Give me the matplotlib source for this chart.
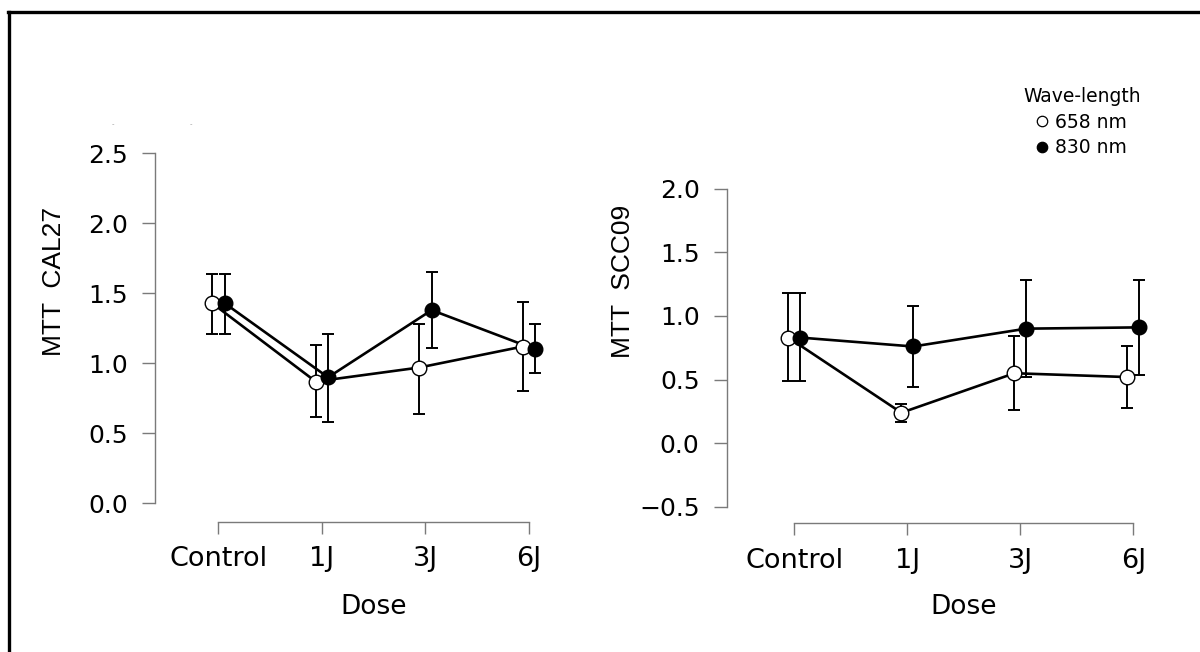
import matplotlib
matplotlib.use('Agg')
import matplotlib.pyplot as plt
from matplotlib.lines import Line2D
import numpy as np

doses = ['Control', '1J', '3J', '6J']

# MTT CAL27
cal_658 = [1.43, 0.87, 0.97, 1.12]
cal_658_lo = [1.21, 0.62, 0.64, 0.80]
cal_658_hi = [1.64, 1.13, 1.28, 1.44]
cal_830 = [1.43, 0.90, 1.38, 1.10]
cal_830_lo = [1.21, 0.58, 1.11, 0.93]
cal_830_hi = [1.64, 1.21, 1.65, 1.28]

# MTT SCC09
scc_658 = [0.83, 0.24, 0.55, 0.52]
scc_658_lo = [0.49, 0.17, 0.26, 0.28]
scc_658_hi = [1.18, 0.31, 0.84, 0.76]
scc_830 = [0.83, 0.76, 0.90, 0.91]
scc_830_lo = [0.49, 0.44, 0.52, 0.54]
scc_830_hi = [1.18, 1.08, 1.28, 1.28]

W, H = 1200, 652
fig = plt.figure(figsize=(12, 6.52), dpi=100)
fig.patch.set_facecolor('white')

tick_font = 'DejaVu Sans'
label_font = 'Liberation Sans'
spine_col = '#7a7a7a'


def px_axes(x0, x1, y_top, y_bot):
    return fig.add_axes([x0 / W, 1 - y_bot / H, (x1 - x0) / W, (y_bot - y_top) / H])


def draw_panel(ax, m658, lo658, hi658, m830, lo830, hi830, dodge):
    x = np.arange(len(doses))
    for vals, lo, hi, face, dx, z in [
        (m658, lo658, hi658, 'white', -dodge, 3),
        (m830, lo830, hi830, 'black', dodge, 4),
    ]:
        vals = np.array(vals)
        err = [vals - np.array(lo), np.array(hi) - vals]
        ax.errorbar(x + dx, vals, yerr=err, fmt='none', ecolor='black',
                    elinewidth=1.4, capsize=4.5, capthick=1.4, zorder=z - 2)
        ax.plot(x + dx, vals, '-', color='black', lw=1.9, zorder=z - 1)
        ax.plot(x + dx, vals, 'o', ms=10.5, mfc=face, mec='black', mew=1.0,
                zorder=z + 2, clip_on=False)
    for s in ['top', 'right']:
        ax.spines[s].set_visible(False)
    for s in ['left', 'bottom']:
        ax.spines[s].set_color(spine_col)
        ax.spines[s].set_linewidth(1.0)
    ax.spines['bottom'].set_bounds(0, 3)
    ax.set_xticks(x)
    ax.set_xticklabels(doses, fontsize=19.5, family=tick_font)
    ax.tick_params(axis='x', length=8.8, width=1.0, color=spine_col, pad=9)
    ax.tick_params(axis='y', length=9.4, width=1.0, color=spine_col, pad=10,
                   labelsize=18)
    for lab in ax.get_yticklabels():
        lab.set_family(tick_font)
    ax.patch.set_alpha(0)


# left panel: CAL27
ax1 = px_axes(155, 545, 140, 521.7)
ax1.set_xlim(-0.611, 3.154)
ax1.set_ylim(-0.131, 2.595)
ax1.set_yticks([0.0, 0.5, 1.0, 1.5, 2.0, 2.5])
ax1.set_yticklabels(['0.0', '0.5', '1.0', '1.5', '2.0', '2.5'])
draw_panel(ax1, cal_658, cal_658_lo, cal_658_hi, cal_830, cal_830_lo, cal_830_hi, 0.06)
ax1.spines['left'].set_bounds(0, 2.5)

# right panel: SCC09
ax2 = px_axes(726.5, 1150, 140, 523.3)
ax2.set_xlim(-0.6, 3.148)
ax2.set_ylim(-0.628, 2.381)
ax2.set_yticks([-0.5, 0.0, 0.5, 1.0, 1.5, 2.0])
ax2.set_yticklabels(['\u22120.5', '0.0', '0.5', '1.0', '1.5', '2.0'])
draw_panel(ax2, scc_658, scc_658_lo, scc_658_hi, scc_830, scc_830_lo, scc_830_hi, 0.052)
ax2.spines['left'].set_bounds(-0.5, 2.0)

# axis titles
fig.text(54 / W, 1 - 281 / H, 'MTT  CAL27', rotation=90, ha='center', va='center',
         fontsize=19, family=label_font)
fig.text(623 / W, 1 - 281 / H, 'MTT  SCC09', rotation=90, ha='center', va='center',
         fontsize=19, family=label_font)
fig.text(373.5 / W, 1 - 607 / H, 'Dose', ha='center', va='center',
         fontsize=19, family=tick_font)
fig.text(963.7 / W, 1 - 607 / H, 'Dose', ha='center', va='center',
         fontsize=19, family=tick_font)

# faint leftovers near top left
fig.text(113 / W, 1 - 124 / H, '-', ha='center', va='center', fontsize=5, color='#999999')
fig.text(191 / W, 1 - 124 / H, '-', ha='center', va='center', fontsize=5, color='#999999')

# legend
handles = [
    Line2D([], [], ls='none', marker='o', ms=7.5, mfc='white', mec='black', mew=0.9),
    Line2D([], [], ls='none', marker='o', ms=7.5, mfc='black', mec='black', mew=0.9),
]
leg = fig.legend(handles, ['658 nm', '830 nm'], title='Wave-length', loc='center',
                 bbox_to_anchor=(1082 / W, 1 - 122 / H), frameon=False,
                 prop={'family': tick_font, 'size': 13.5}, handlelength=0.6,
                 handletextpad=0.4, labelspacing=0.35, borderaxespad=0)
leg.get_title().set_fontsize(13.5)
leg.get_title().set_family(tick_font)

# border along top and left
fig.add_artist(Line2D([9 / W, 9 / W], [0, 1 - 11.5 / H], color='black', lw=2.4,
                      transform=fig.transFigure))
fig.add_artist(Line2D([8 / W, 1], [1 - 11.5 / H, 1 - 11.5 / H], color='black', lw=2.4,
                      transform=fig.transFigure))

fig.savefig('out.png', dpi=100)
